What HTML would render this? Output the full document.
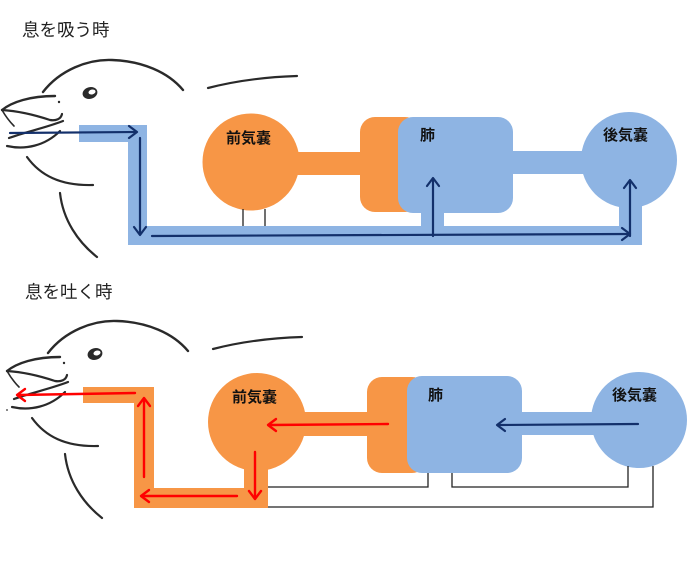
<!DOCTYPE html>
<html><head><meta charset="utf-8"><style>
html,body{margin:0;padding:0;background:#fff;}
svg{display:block;}
.t{font-family:"Liberation Sans","Noto Sans CJK JP",sans-serif;font-size:17.5px;fill:#222;}
.l{font-family:"Liberation Sans","Noto Sans CJK JP",sans-serif;font-size:15px;font-weight:bold;fill:#111;}
</style></head><body>
<svg width="700" height="576" viewBox="0 0 700 576" xmlns="http://www.w3.org/2000/svg">
<defs>
<g id="bird" fill="none" stroke="#2a2a2a" stroke-linecap="round">
  <path d="M43,92 C60,70 88,59 112,60 C142,61 168,72 183,90" stroke-width="2.4"/>
  <path d="M208,88 C235,81 265,77 297,76" stroke-width="2.2"/>
  <path d="M2,110 C12,102 30,96 55,96" stroke-width="2.4"/>
  <path d="M2,110 C18,111 35,115 50,120 C56,121 61,119 62,114" stroke-width="2.2"/>
  <path d="M2,110 C6,117 10,122 14,126" stroke-width="1.6"/>
  <path d="M9,138 C25,132 45,128 63,121" stroke-width="2.2"/>
  <path d="M7,146 C25,150 45,146 60,131" stroke-width="2.2"/>
  <path d="M27,157 C40,175 60,186 93,185" stroke-width="2.2"/>
  <path d="M60,193 C63,220 78,242 97,257" stroke-width="2.2"/>
  <ellipse cx="90" cy="93" rx="7.5" ry="5.8" transform="rotate(-15 90 93)" fill="#2a2a2a" stroke="none"/>
  <ellipse cx="92" cy="92" rx="3.6" ry="2.4" transform="rotate(-15 92 92)" fill="#fff" stroke="none"/>
  <circle cx="59" cy="102" r="1.2" fill="#2a2a2a" stroke="none"/>
</g>
</defs>

<!-- ===== TOP ===== -->
<text class="t" x="22" y="36">息を吸う時</text>
<use href="#bird"/>

<g fill="#8EB4E3">
  <rect x="79" y="125" width="68" height="17"/>
  <rect x="128" y="125" width="19" height="120"/>
  <rect x="128" y="226" width="514" height="19"/>
  <rect x="421" y="200" width="23" height="30"/>
  <rect x="619" y="190" width="23" height="55"/>
</g>
<g fill="#F79646">
  <circle cx="251" cy="162" r="48.5"/>
  <rect x="290" y="152" width="80" height="23"/>
  <rect x="360" y="117" width="60" height="95" rx="15"/>
</g>
<g fill="#8EB4E3">
  <rect x="398" y="117" width="115" height="96" rx="15"/>
  <rect x="505" y="151" width="85" height="23"/>
  <circle cx="629" cy="160" r="48"/>
</g>
<g stroke="#222" stroke-width="1.3">
  <line x1="243" y1="209" x2="243" y2="226"/>
  <line x1="265" y1="209" x2="265" y2="226"/>
</g>
<text class="l" x="226" y="143">前気嚢</text>
<text class="l" x="420" y="140">肺</text>
<text class="l" x="603" y="140">後気嚢</text>

<g stroke="#13306B" stroke-width="2.2" fill="none" stroke-linecap="round" stroke-linejoin="round">
  <line x1="10" y1="133" x2="136" y2="132"/>
  <polyline points="129,126 137,132 129,138"/>
  <line x1="140" y1="138" x2="140" y2="234"/>
  <polyline points="134,227 140,235 146,227"/>
  <line x1="152" y1="236" x2="629" y2="234"/>
  <polyline points="622,228 630,234 622,240"/>
  <line x1="433" y1="236" x2="433" y2="179"/>
  <polyline points="427,186 433,178 439,186"/>
  <line x1="630" y1="236" x2="630" y2="181"/>
  <polyline points="624,188 630,180 636,188"/>
</g>

<!-- ===== BOTTOM ===== -->
<text class="t" x="25" y="298">息を吐く時</text>
<use href="#bird" transform="translate(5,261)"/>
<circle cx="7" cy="410" r="0.9" fill="#333"/>

<g fill="#F79646">
  <rect x="83" y="387" width="71" height="16"/>
  <rect x="134" y="387" width="20" height="121"/>
  <rect x="134" y="488" width="134" height="20"/>
  <rect x="244" y="440" width="24" height="68"/>
  <circle cx="257" cy="422" r="49"/>
  <rect x="300" y="412" width="75" height="24"/>
  <rect x="367" y="377" width="60" height="96" rx="15"/>
</g>
<g fill="#8EB4E3">
  <rect x="407" y="376" width="115" height="97" rx="15"/>
  <rect x="515" y="412" width="85" height="23"/>
  <circle cx="639" cy="420" r="48"/>
</g>
<g stroke="#222" stroke-width="1.3" fill="none">
  <polyline points="428,473 428,487 268,487"/>
  <polyline points="452,473 452,487 628,487 628,466"/>
  <polyline points="653,466 653,507 268,507"/>
</g>
<text class="l" x="232" y="402">前気嚢</text>
<text class="l" x="428" y="400">肺</text>
<text class="l" x="612" y="400">後気嚢</text>

<g stroke="#FF0000" stroke-width="2.4" fill="none" stroke-linecap="round" stroke-linejoin="round">
  <line x1="135" y1="393" x2="18" y2="395"/>
  <polyline points="25,389 17,395 25,401"/>
  <line x1="144" y1="477" x2="144" y2="399"/>
  <polyline points="138,406 144,398 150,406"/>
  <line x1="237" y1="496" x2="142" y2="496"/>
  <polyline points="149,490 141,496 149,502"/>
  <line x1="255" y1="452" x2="255" y2="498"/>
  <polyline points="249,491 255,499 261,491"/>
  <line x1="388" y1="424" x2="269" y2="425"/>
  <polyline points="276,419 268,425 276,431"/>
</g>
<g stroke="#13306B" stroke-width="2.2" fill="none" stroke-linecap="round" stroke-linejoin="round">
  <line x1="638" y1="424" x2="498" y2="425"/>
  <polyline points="505,419 497,425 505,431"/>
</g>
</svg>
</body></html>
